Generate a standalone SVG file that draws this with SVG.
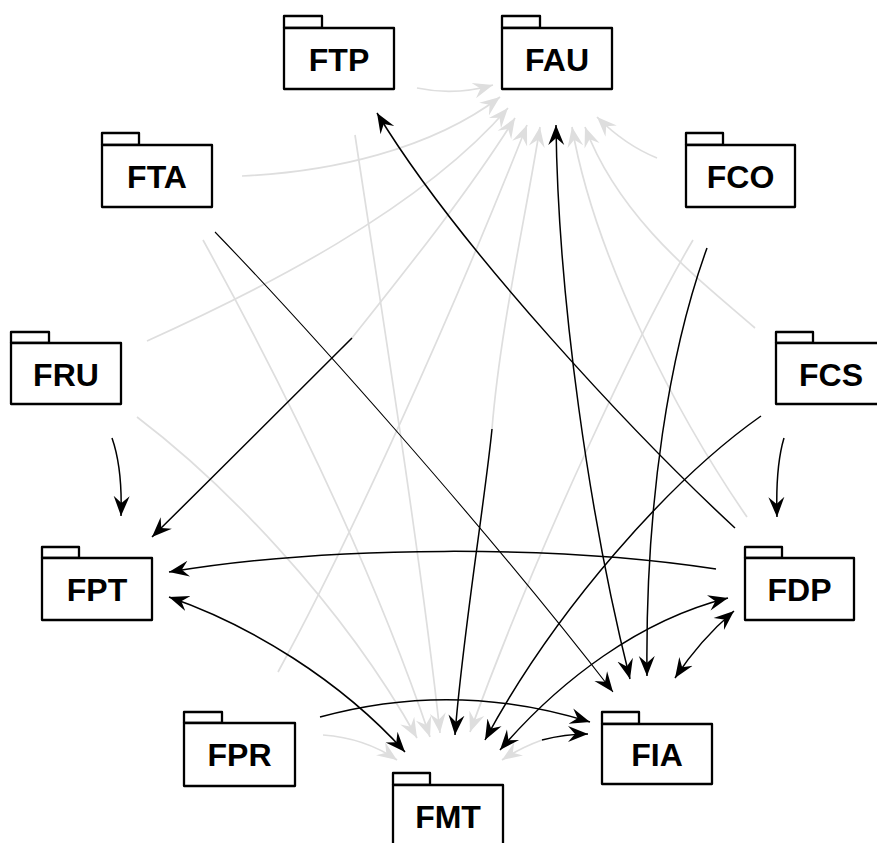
<svg xmlns="http://www.w3.org/2000/svg" width="877" height="843" viewBox="0 0 877 843">
  <style>
    .box { fill: #fff; stroke: #000; stroke-width: 2.3; stroke-linejoin: round; }
    .lbl { font-family: "Liberation Sans", Arial, sans-serif; font-weight: bold; font-size: 32px; text-anchor: middle; fill: #000; }
    .e { fill: none; stroke: #000; stroke-width: 1.5; }
    .thin { stroke-width: 1.1; }
    .g { fill: none; stroke: #dedede; stroke-width: 1.7; }
    .ah { marker-end: url(#ah); }
    .ah2 { marker-start: url(#ah); marker-end: url(#ah); }
    .gh { marker-end: url(#gh); }
  </style>
  <defs>
    <marker id="ah" viewBox="0 -9 22 18" refX="20" refY="0" markerWidth="22" markerHeight="18" markerUnits="userSpaceOnUse" orient="auto-start-reverse">
      <path d="M0,-8 L20,0 L0,8 L7,0 z" fill="#000"/>
    </marker>
    <marker id="gh" viewBox="0 -9 22 18" refX="20" refY="0" markerWidth="22" markerHeight="18" markerUnits="userSpaceOnUse" orient="auto">
      <path d="M0,-8 L20,0 L0,8 L7,0 z" fill="#dedede"/>
    </marker>
  </defs>

  <rect width="877" height="843" fill="#fff"/>

  <g id="connectors">
    <!-- light dependencies into FAU -->
    <path class="g gh" d="M417,88 Q455,96 493,85"/>
    <path class="g gh" d="M242,176 C330,172 430,150 500,97"/>
    <path class="g gh" d="M147,341 C260,290 420,210 508,108"/>
    <path class="g gh" d="M352,338 C410,265 470,190 515,118"/>
    <path class="g gh" d="M278,672 C350,540 450,320 527,125"/>
    <path class="g gh" d="M492,429 C500,330 525,220 540,127"/>
    <path class="g gh" d="M747,517 C680,420 595,260 572,127"/>
    <path class="g gh" d="M755,328 C700,280 620,220 585,127"/>
    <path class="g gh" d="M657,158 Q625,145 597,117"/>
    <!-- light dependencies into FMT -->
    <path class="g gh" d="M323,735 Q365,738 397,760"/>
    <path class="g gh" d="M137,417 C220,480 340,600 417,738"/>
    <path class="g gh" d="M203,240 C280,380 370,560 430,737"/>
    <path class="g gh" d="M355,135 C380,300 420,550 440,733"/>
    <path class="g gh" d="M693,240 C640,330 540,540 470,732"/>
    <path class="g gh" d="M542,740 Q520,748 502,760"/>

    <!-- dark dependencies -->
    <path class="e ah" d="M112,438 C119,458 122,485 121,516"/>
    <path class="e ah" d="M784,438 C778,458 776,485 777,517"/>
    <path class="e ah" d="M716,569 C560,545 330,545 169,572"/>
    <path class="e ah2" d="M169,597 C250,625 340,680 405,752"/>
    <path class="e thin ah" d="M215,232 C300,320 480,520 613,692"/>
    <path class="e ah" d="M735,528 C640,440 460,250 377,113"/>
    <path class="e ah2" d="M556,125 C558,300 590,520 630,679"/>
    <path class="e ah" d="M707,248 C670,350 645,500 647,676"/>
    <path class="e ah" d="M761,416 C670,480 555,610 485,740"/>
    <path class="e ah2" d="M500,750 C560,680 640,620 728,598"/>
    <path class="e ah2" d="M675,678 Q700,640 734,611"/>
    <path class="e ah" d="M320,717 Q455,680 590,722"/>
    <path class="e ah" d="M542,740 Q565,734 588,734"/>
    <path class="e ah" d="M352,338 C290,400 220,470 152,537"/>
    <path class="e ah" d="M492,429 C485,500 462,640 455,735"/>
  </g>

  <g id="FTP">
    <rect class="box" x="284" y="16" width="38" height="12"/>
    <rect class="box" x="284" y="28" width="110" height="61"/>
    <text class="lbl" x="339" y="71">FTP</text>
  </g>
  <g id="FAU">
    <rect class="box" x="502" y="16" width="38" height="12"/>
    <rect class="box" x="502" y="28" width="110" height="61"/>
    <text class="lbl" x="557" y="71">FAU</text>
  </g>
  <g id="FTA">
    <rect class="box" x="102" y="133" width="37" height="12"/>
    <rect class="box" x="102" y="145" width="110" height="62"/>
    <text class="lbl" x="157" y="188">FTA</text>
  </g>
  <g id="FCO">
    <rect class="box" x="686" y="133" width="37" height="12"/>
    <rect class="box" x="686" y="145" width="109" height="62"/>
    <text class="lbl" x="740.5" y="188">FCO</text>
  </g>
  <g id="FRU">
    <rect class="box" x="11" y="332" width="38" height="11"/>
    <rect class="box" x="11" y="343" width="110" height="61"/>
    <text class="lbl" x="66" y="386">FRU</text>
  </g>
  <g id="FCS">
    <rect class="box" x="776" y="332" width="37" height="11"/>
    <rect class="box" x="776" y="343" width="110" height="61"/>
    <text class="lbl" x="831" y="386">FCS</text>
  </g>
  <g id="FPT">
    <rect class="box" x="42" y="547" width="37" height="11"/>
    <rect class="box" x="42" y="558" width="110" height="62"/>
    <text class="lbl" x="97" y="601">FPT</text>
  </g>
  <g id="FDP">
    <rect class="box" x="745" y="547" width="37" height="11"/>
    <rect class="box" x="745" y="558" width="109" height="62"/>
    <text class="lbl" x="799.5" y="601">FDP</text>
  </g>
  <g id="FPR">
    <rect class="box" x="184" y="712" width="38" height="11"/>
    <rect class="box" x="184" y="723" width="111" height="63"/>
    <text class="lbl" x="239.5" y="766">FPR</text>
  </g>
  <g id="FIA">
    <rect class="box" x="602" y="712" width="37" height="12"/>
    <rect class="box" x="602" y="724" width="110" height="60"/>
    <text class="lbl" x="657" y="766">FIA</text>
  </g>
  <g id="FMT">
    <rect class="box" x="393" y="773" width="37" height="12"/>
    <rect class="box" x="393" y="785" width="110" height="62"/>
    <text class="lbl" x="448" y="828">FMT</text>
  </g>
</svg>
